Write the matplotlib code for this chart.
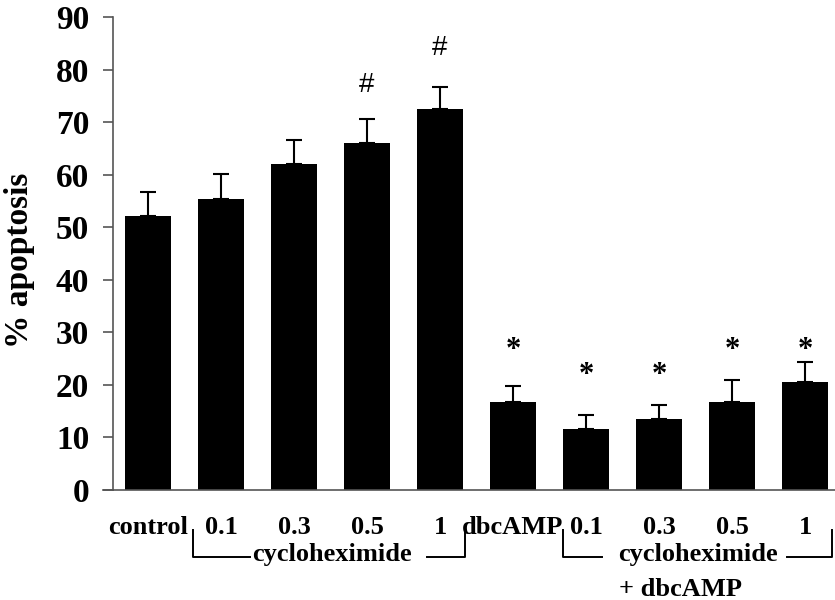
import matplotlib
matplotlib.use("Agg")
import matplotlib.pyplot as plt

labels = ["control", "0.1", "0.3", "0.5", "1", "dbcAMP", "0.1", "0.3", "0.5", "1"]
apoptosis = [52.2, 55.3, 62.1, 66.0, 72.5, 16.7, 11.7, 13.6, 16.7, 20.5]
sem = [4.5, 4.8, 4.5, 4.6, 4.1, 3.0, 2.6, 2.6, 4.2, 3.8]
sig_marks = ["", "", "", "#", "#", "*", "*", "*", "*", "*"]
sig_y = [0, 0, 0, 77.1, 84.1, 27.2, 22.3, 22.3, 27.2, 27.2]

plt.rcParams['font.family'] = ['Liberation Serif', 'DejaVu Serif']

fig = plt.figure(figsize=(8.35, 6), dpi=100)
ax = fig.add_axes([0.1353, 0.1833, 0.8647, 0.7883])

x = list(range(len(labels)))
ax.bar(x, apoptosis, width=0.63, color="black", zorder=2)
ax.errorbar(x, apoptosis, yerr=[[0] * len(sem), sem], fmt="none",
            ecolor="black", elinewidth=1.5, capsize=6, capthick=1.5, zorder=3)

for xi, m, yy in zip(x, sig_marks, sig_y):
    if m == "#":
        ax.text(xi, yy, m, ha="center", va="center", fontsize=20,
                family=["Liberation Sans", "DejaVu Sans"])
    elif m:
        ax.text(xi, yy - 0.6, m, ha="center", va="center", fontsize=22,
                fontweight="bold")

ax.set_xlim(-0.48, 9.41)
ax.set_ylim(0, 90)
ax.set_yticks(range(0, 91, 10))
ax.set_xticks(x)
ax.set_xticklabels(labels, fontsize=19, fontweight="bold")
for t in ax.get_yticklabels():
    t.set_fontsize(24)
    t.set_fontweight("bold")
ax.tick_params(axis="x", length=0, pad=19)
ax.tick_params(axis="y", length=7, width=1.2, color="#555555", pad=10)

for s in ["top", "right"]:
    ax.spines[s].set_visible(False)
for s in ["left", "bottom"]:
    ax.spines[s].set_color("#555555")
    ax.spines[s].set_linewidth(1.2)
ax.plot([-0.0139, 0], [0, 0], transform=ax.transAxes, color="#555555",
        lw=1.2, clip_on=False)

ax.set_ylabel("% apoptosis", fontsize=24, fontweight="bold")
ax.yaxis.set_label_coords(-0.108, 0.485)

# group brackets under the labels
tr = ax.get_xaxis_transform()
top, low = -0.0846, -0.1416
kw = dict(transform=tr, color="black", lw=1.4, clip_on=False)
ax.plot([0.62, 0.62, 1.40], [top, low, low], **kw)
ax.plot([3.82, 4.34, 4.34], [low, low, top], **kw)
ax.text(2.52, -0.137, "cycloheximide", transform=tr, ha="center", va="center",
        fontsize=19, fontweight="bold")
ax.plot([5.68, 5.68, 6.22], [top, low, low], **kw)
ax.plot([8.75, 9.37, 9.37], [low, low, top], **kw)
ax.text(7.53, -0.137, "cycloheximide", transform=tr, ha="center", va="center",
        fontsize=19, fontweight="bold")
ax.text(7.3, -0.21, "+ dbcAMP", transform=tr, ha="center", va="center",
        fontsize=19, fontweight="bold")

fig.savefig("out.png", dpi=100)
